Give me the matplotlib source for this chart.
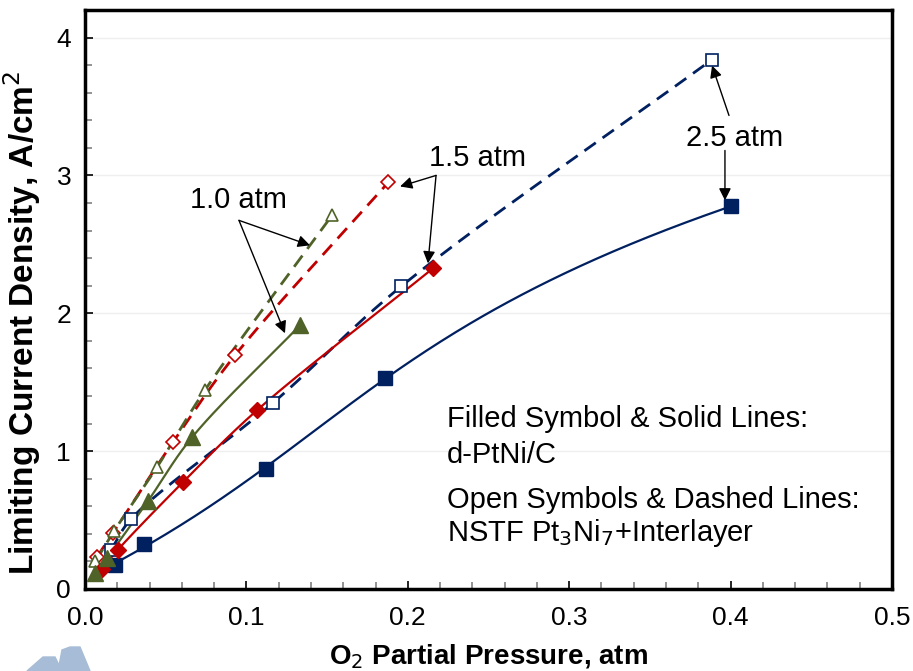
import numpy as np
import matplotlib.pyplot as plt
from matplotlib.patches import Polygon

plt.rcParams['font.family'] = ['Liberation Sans', 'DejaVu Sans']

# 2.5 atm (blue)
x25_f = [0.0186, 0.0366, 0.112, 0.186, 0.400]
y25_f = [0.174, 0.326, 0.870, 1.53, 2.775]
x25_o = [0.016, 0.0285, 0.1165, 0.196, 0.3885]
y25_o = [0.28, 0.507, 1.35, 2.196, 3.84]
# 1.5 atm (red)
x15_f = [0.0105, 0.0204, 0.0607, 0.1066, 0.2156]
y15_f = [0.145, 0.285, 0.775, 1.297, 2.326]
x15_o = [0.0074, 0.0173, 0.0545, 0.093, 0.188]
y15_o = [0.232, 0.406, 1.065, 1.696, 2.95]
# 1.0 atm (green)
x10_f = [0.0062, 0.0136, 0.039, 0.0663, 0.1332]
y10_f = [0.116, 0.225, 0.638, 1.10, 1.913]
x10_o = [0.0065, 0.018, 0.0446, 0.0743, 0.153]
y10_o = [0.20, 0.42, 0.884, 1.442, 2.71]

blue = '#002060'
red = '#C00000'
green = '#4F6228'


def smooth(xs, ys, n=40):
    # centripetal catmull-rom, worked out in (roughly) pixel units
    sx, sy = 1614.0, 138.0
    P = np.column_stack([np.array(xs) * sx, np.array(ys) * sy])
    P = np.vstack([2*P[0] - P[1], P, 2*P[-1] - P[-2]])
    out = []
    for i in range(1, len(P) - 2):
        p0, p1, p2, p3 = P[i-1], P[i], P[i+1], P[i+2]
        t0 = 0.0
        t1 = t0 + np.linalg.norm(p1 - p0)**0.5
        t2 = t1 + np.linalg.norm(p2 - p1)**0.5
        t3 = t2 + np.linalg.norm(p3 - p2)**0.5
        t = np.linspace(t1, t2, n)[:, None]
        a1 = (t1-t)/(t1-t0)*p0 + (t-t0)/(t1-t0)*p1
        a2 = (t2-t)/(t2-t1)*p1 + (t-t1)/(t2-t1)*p2
        a3 = (t3-t)/(t3-t2)*p2 + (t-t2)/(t3-t2)*p3
        b1 = (t2-t)/(t2-t0)*a1 + (t-t0)/(t2-t0)*a2
        b2 = (t3-t)/(t3-t1)*a2 + (t-t1)/(t3-t1)*a3
        out.append((t2-t)/(t2-t1)*b1 + (t-t1)/(t2-t1)*b2)
    out = np.vstack(out)
    return out[:, 0] / sx, out[:, 1] / sy


fig = plt.figure(figsize=(9.13, 6.71), dpi=100)
ax = fig.add_axes([85/913, 1-589/671, (892-85)/913, (589-10)/671])

dash = (0, (5, 3))
for xs, ys, c in [(x25_o, y25_o, blue), (x15_o, y15_o, red), (x10_o, y10_o, green)]:
    sx, sy = smooth(xs, ys)
    ax.plot(sx, sy, color=c, lw=2, linestyle=dash, zorder=2)
for xs, ys, c in [(x15_f, y15_f, red), (x10_f, y10_f, green)]:
    sx, sy = smooth(xs, ys)
    ax.plot(sx, sy, color=c, lw=1.6, zorder=3)
# the 2.5 atm solid line is a smooth fit (x as a cubic in y)
cf = np.polyfit(y25_f, x25_f, 3)
yf = np.linspace(y25_f[0], y25_f[-1], 200)
ax.plot(np.polyval(cf, yf), yf, color=blue, lw=1.6, zorder=3)

ax.plot(x25_o, y25_o, 's', ms=9, mfc='white', mec=blue, mew=1.2, ls='none', zorder=4)
ax.plot(x15_o, y15_o, 'D', ms=7, mfc='white', mec=red, mew=1.2, ls='none', zorder=4)
ax.plot(x10_o, y10_o, '^', ms=9, mfc='white', mec=green, mew=1.2, ls='none', zorder=4)
ax.plot(x25_f, y25_f, 's', ms=10, color=blue, ls='none', zorder=5)
ax.plot(x15_f, y15_f, 'D', ms=8, color=red, ls='none', zorder=5)
ax.plot(x10_f, y10_f, '^', ms=11, color=green, ls='none', zorder=5)

ax.set_xlim(0, 0.5)
ax.set_ylim(0, 4.2)
ax.set_xticks(np.arange(0, 0.51, 0.1))
ax.set_xticks(np.arange(0, 0.501, 0.02), minor=True)
ax.set_yticks([0, 1, 2, 3, 4])
ax.set_yticks(np.arange(0, 4.21, 0.2), minor=True)
ax.set_xticklabels(['0.0', '0.1', '0.2', '0.3', '0.4', '0.5'])
ax.tick_params(which='both', direction='in', labelsize=19)
ax.tick_params(axis='x', which='major', pad=12)
ax.tick_params(axis='y', which='major', pad=10)
ax.tick_params(which='major', length=6, width=1.2, color='black')
ax.tick_params(which='minor', length=5, width=1.2, color='#808080')
ax.grid(axis='y', which='major', color='#efefef', lw=1)
ax.set_axisbelow(True)
for s in ax.spines.values():
    s.set_linewidth(2.5)

ax.set_xlabel('O$_2$ Partial Pressure, atm', fontsize=20, fontweight='bold')
ax.xaxis.set_label_coords(0.5, -0.093)
ax.set_ylabel('Limiting Current Density, A/cm$^2$', fontsize=24, fontweight='bold')
ax.yaxis.set_label_coords(-0.052, 0.46)

txt = 21
ax.text(0.224, 1.232, 'Filled Symbol & Solid Lines:', fontsize=txt, va='center')
ax.text(0.224, 0.971, 'd-PtNi/C', fontsize=txt, va='center')
ax.text(0.224, 0.645, 'Open Symbols & Dashed Lines:', fontsize=txt, va='center')
ax.text(0.224, 0.406, 'NSTF Pt$_3$Ni$_7$+Interlayer', fontsize=txt, va='center')

arr = dict(arrowstyle='-|>', color='black', lw=1, mutation_scale=18, shrinkA=0, shrinkB=0)
ax.text(0.0948, 2.82, '1.0 atm', fontsize=txt, ha='center', va='center')
ax.annotate('', xy=(0.1394, 2.493), xytext=(0.0954, 2.674), arrowprops=arr)
ax.annotate('', xy=(0.1239, 1.855), xytext=(0.0954, 2.674), arrowprops=arr)
ax.text(0.2429, 3.13, '1.5 atm', fontsize=txt, ha='center', va='center')
ax.annotate('', xy=(0.1952, 2.92), xytext=(0.2175, 3.0), arrowprops=arr)
ax.annotate('', xy=(0.2125, 2.362), xytext=(0.2175, 3.0), arrowprops=arr)
ax.text(0.4027, 3.275, '2.5 atm', fontsize=txt, ha='center', va='center')
ax.annotate('', xy=(0.3885, 3.797), xytext=(0.399, 3.435), arrowprops=arr)
ax.annotate('', xy=(0.3965, 2.819), xytext=(0.3965, 3.181), arrowprops=arr)

# logo fragment at bottom left
W, H = 913, 671
for pts in [[(27, 671), (43, 657), (55, 657), (62, 671)],
            [(58, 671), (62, 650), (70, 647), (80, 647), (90, 671)]]:
    fig.patches.append(Polygon([(px/W, 1-py/H) for px, py in pts], closed=True,
                               transform=fig.transFigure, color='#a7bcd6', zorder=0))

fig.savefig('out.png', dpi=100)
